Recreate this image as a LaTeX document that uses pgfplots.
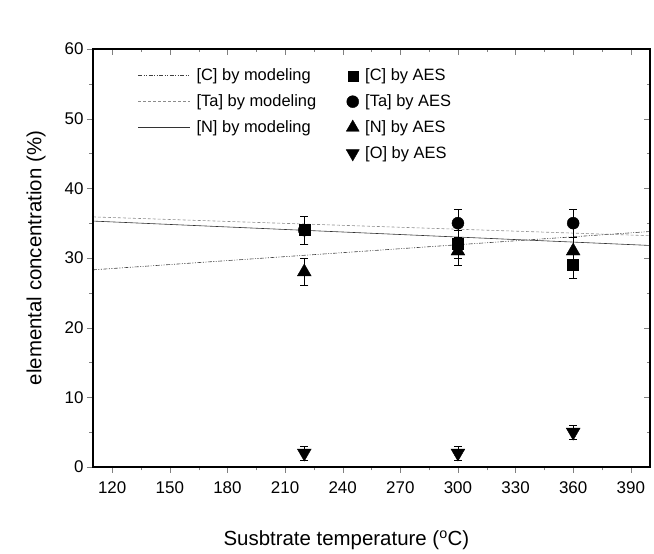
\documentclass[border=0pt]{standalone}
\usepackage{pgfplots}
\pgfplotsset{compat=1.18}
\usepackage{fontspec}
\setmainfont{Liberation Sans}
\pgfplotsset{mylineleg/.style={legend image code/.code={\draw[##1] (0bp,0bp) -- (52bp,0bp);}}}
\begin{document}
\begin{tikzpicture}
\begin{axis}[
  scale only axis, width=557bp, height=418bp,
  xmin=110, xmax=400, ymin=0, ymax=60,
  xtick={120,150,...,390}, ytick={0,10,...,60},
  minor x tick num=1, minor y tick num=1,
  tick align=outside, xtick pos=left, ytick pos=left,
  major tick length=6bp, minor tick length=3.5bp,
  /pgf/number format/assume math mode=true,
  ticklabel style={font=\fontsize{17}{19}\selectfont},
  xticklabel style={yshift=-5bp},
  xlabel={Susbtrate temperature ($^{\mathrm{o}}$C)},
  ylabel={elemental concentration (\%)},
  label style={font=\fontsize{20.5}{23}\selectfont},
  xlabel style={at={(axis description cs:0.455,-0.175)}, anchor=center},
  ylabel style={at={(axis description cs:-0.102,0.5)}, anchor=center},
  axis line style={line width=1.1pt},
  legend columns=2,
  legend cell align=left,
  legend style={draw=none, fill=none, at={(axis description cs:0.075,0.962)}, anchor=north west,
    font=\fontsize{16.5}{18}\selectfont, row sep=8.5bp,
    nodes={inner xsep=6bp},
    /tikz/every even column/.append style={column sep=24bp}},
  error bars/error bar style={line width=0.8pt},
  error bars/error mark options={rotate=90, mark size=4bp, line width=0.8pt},
]
% modeling lines
\addplot[black!75, line width=0.6pt, dash pattern=on 4pt off 1.5pt on 1pt off 1.5pt on 1pt off 1.5pt, forget plot] coordinates {(110,28.3) (400,33.8)};
\addplot[black!45, line width=0.6pt, dash pattern=on 3pt off 2pt, forget plot] coordinates {(110,35.9) (400,33.2)};
\addplot[black!80, line width=0.6pt, forget plot] coordinates {(110,35.3) (400,31.8)};
% AES data
\addplot[only marks, mark=*, mark size=6bp, black, forget plot,
  error bars/.cd, y dir=both, y explicit] coordinates {
  (220,34) +- (0,2)
  (300,35) +- (0,2)
  (360,35) +- (0,2)};
\addplot[only marks, mark=triangle*, mark size=8bp, black, forget plot,
  error bars/.cd, y dir=both, y explicit] coordinates {
  (220,28) +- (0,2)
  (300,31) +- (0,2)
  (360,31) +- (0,2)};
\addplot[only marks, mark=square*, mark size=5.5bp, black, forget plot,
  error bars/.cd, y dir=both, y explicit] coordinates {
  (220,34) +- (0,2)
  (300,32) +- (0,2)
  (360,29) +- (0,2)};
\addplot[only marks, mark=triangle*, mark options={rotate=180}, mark size=8bp, black, forget plot,
  error bars/.cd, y dir=both, y explicit] coordinates {
  (220,2) +- (0,1)
  (300,2) +- (0,1)
  (360,5) +- (0,1)};
% legend
\addlegendimage{mylineleg, black!75, line width=0.6pt, dash pattern=on 4pt off 1.5pt on 1pt off 1.5pt on 1pt off 1.5pt}
\addlegendentry{[C] by modeling}
\addlegendimage{only marks, mark=square*, mark size=5bp, black}
\addlegendentry{[C] by AES}
\addlegendimage{mylineleg, black!45, line width=0.6pt, dash pattern=on 3pt off 2pt}
\addlegendentry{[Ta] by modeling}
\addlegendimage{only marks, mark=*, mark size=6bp, black}
\addlegendentry{[Ta] by AES}
\addlegendimage{mylineleg, black!80, line width=0.6pt}
\addlegendentry{[N] by modeling}
\addlegendimage{only marks, mark=triangle*, mark size=7.5bp, black}
\addlegendentry{[N] by AES}
\addlegendimage{empty legend}
\addlegendentry{}
\addlegendimage{only marks, mark=triangle*, mark options={rotate=180}, mark size=7.5bp, black}
\addlegendentry{[O] by AES}
\end{axis}
\begin{axis}[
  scale only axis, width=557bp, height=418bp,
  xmin=110, xmax=400, ymin=0, ymax=60,
  xtick={120,150,...,390}, ytick={0,10,...,60},
  minor x tick num=1, minor y tick num=1,
  tick align=inside, xtick pos=right, ytick pos=right,
  major tick length=6bp, minor tick length=3.5bp,
  xticklabels={}, yticklabels={},
  axis line style={line width=1.1pt},
]
\end{axis}
\pgfresetboundingbox
\path ([shift={(-93bp,-87bp)}]current axis.south west) rectangle ([shift={(4bp,49bp)}]current axis.north east);
\end{tikzpicture}
\end{document}
